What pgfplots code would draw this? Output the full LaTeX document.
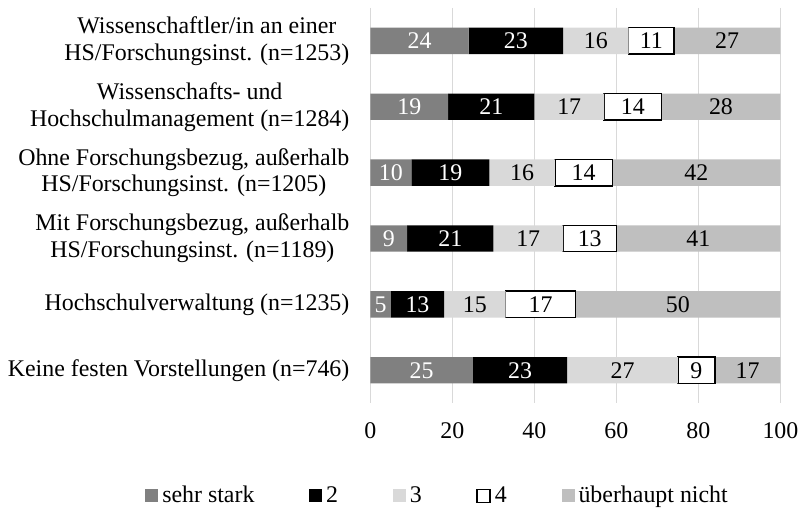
\documentclass[border=0pt]{standalone}
\usepackage{pgfplots}
\pgfplotsset{compat=1.18}
\usepackage{pgfplotstable}
\usepackage{fontspec}
\setmainfont{Liberation Serif}
\definecolor{cA}{HTML}{808080}
\definecolor{cC}{HTML}{D9D9D9}
\definecolor{cE}{HTML}{BFBFBF}
\definecolor{gridc}{HTML}{D9D9D9}

% a-e: printed labels; eLen: drawn length of the last segment (bars end at 100)
\pgfplotstableread{
idx a b c d e eLen
0 24 23 16 11 27 26
1 19 21 17 14 28 29
2 10 19 16 14 42 41
3 9 21 17 13 41 40
4 5 13 15 17 50 50
5 25 23 27 9 17 16
}\datatable

\begin{document}
\begin{tikzpicture}[font=\fontsize{12}{13.5}\selectfont]
\path (0,0) rectangle (402.5pt,254.5pt);
\begin{axis}[
  at={(186pt,52pt)}, anchor=south west,
  scale only axis, width=206pt, height=198.5pt,
  xbar stacked, bar width=0.4,
  xmin=0, xmax=100, ymin=-0.5, ymax=5.5, y dir=reverse,
  xtick={0,20,...,100}, ytick={0,...,5},
  yticklabels={
    {Wissenschaftler/in an einer\\HS/Forschungsinst. (n=1253)},
    {Wissenschafts- und\\Hochschulmanagement (n=1284)},
    {Ohne Forschungsbezug, außerhalb\\HS/Forschungsinst. (n=1205)},
    {Mit Forschungsbezug, außerhalb\\HS/Forschungsinst. (n=1189)},
    {Hochschulverwaltung (n=1235)},
    {Keine festen Vorstellungen (n=746)}},
  yticklabel style={align=center, anchor=east, xshift=-7pt, font=\fontsize{12}{13.5}\selectfont},
  xticklabel style={yshift=-6pt},
  /pgf/number format/assume math mode=true,
  axis line style={draw=none},
  major tick length=0pt,
  xmajorgrids, grid style={gridc, line width=0.7pt},
  legend columns=5,
  legend style={draw=none, inner sep=0pt, outer sep=0pt, at={(-0.5485,-0.2345)}, anchor=west,
    /tikz/every even column/.append style={column sep=25.5pt},
    /tikz/every odd column/.append style={column sep=0pt},
    nodes={inner sep=2pt}},
  legend image code/.code={\path[#1] (0pt,-3.25pt) rectangle (6.5pt,3.25pt);},
  nodes near coords,
  every node near coord/.append style={anchor=center, font=\fontsize{12}{13.5}\selectfont},
]
\addplot[fill=cA, draw=none, point meta=explicit,
  every node near coord/.append style={text=white}]
  table[x=a, y=idx, meta=a]{\datatable};
\addplot[fill=black, draw=none, point meta=explicit,
  every node near coord/.append style={text=white}]
  table[x=b, y=idx, meta=b]{\datatable};
\addplot[fill=cC, draw=none, point meta=explicit,
  every node near coord/.append style={text=black}]
  table[x=c, y=idx, meta=c]{\datatable};
\addplot[fill=white, draw=black, line width=0.75pt, point meta=explicit,
  every node near coord/.append style={text=black}]
  table[x=d, y=idx, meta=d]{\datatable};
\addplot[fill=cE, draw=none, point meta=explicit,
  every node near coord/.append style={text=black}]
  table[x=eLen, y=idx, meta=e]{\datatable};
\legend{sehr stark, 2, 3, 4, überhaupt nicht}
\end{axis}
\end{tikzpicture}
\end{document}
